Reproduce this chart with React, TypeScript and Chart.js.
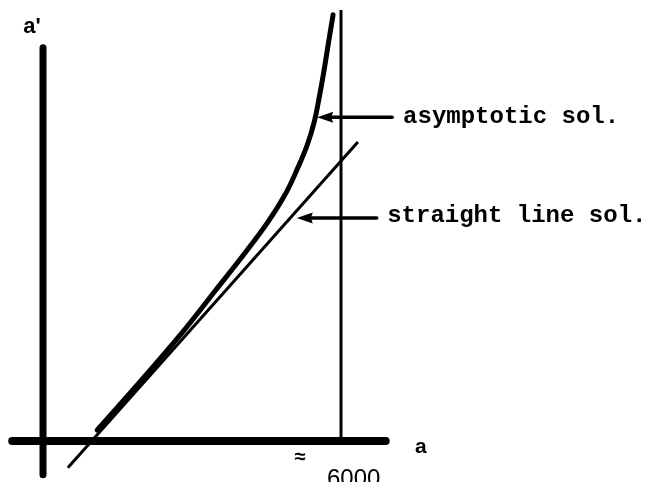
import { useEffect, useRef } from "react";
import { Chart, registerables } from "chart.js";

Chart.register(...registerables);

// Asymptotic solution: a and a' samples
const asymA = [1090, 1950, 2760, 3480, 4070, 4530, 4890, 5130, 5320, 5460, 5560, 5660, 5740, 5840];
const asymAp = [220, 1190, 2130, 3040, 3790, 4410, 4990, 5500, 5960, 6420, 6910, 7470, 7970, 8580];

// Straight line solution: end points
const lineA = [500, 6340];
const lineAp = [-540, 6020];

// Vertical asymptote at a ≈ 6000
const asymptoteA = 6000;
const asymptoteAp = [0, 8680];

// Axis extents
const xAxisA = [-620, 6900];
const yAxisAp = [-680, 7920];

// Text
const xAxisTitle = "a";
const yAxisTitle = "a'";
const approxSign = "≈";
const asymptoteTick = "6000";
const asymLabel = "asymptotic sol.";
const lineLabel = "straight line sol.";

// Pointer arrows (a' level, tip a, tail a)
const arrowAp = [6520, 4490];
const arrowTipA = [5520, 5110];
const arrowTailA = [7030, 6720];

const INK = "#000";

const pts = (xs: number[], ys: number[]) => xs.map((x, i) => ({ x, y: ys[i] }));

const annotations = {
  id: "sketchAnnotations",
  afterDatasetsDraw(chart: any) {
    const { ctx } = chart;
    const sx = chart.scales.x;
    const sy = chart.scales.y;
    const X = (v: number) => sx.getPixelForValue(v);
    const Y = (v: number) => sy.getPixelForValue(v);
    ctx.save();
    ctx.fillStyle = INK;
    ctx.strokeStyle = INK;

    // arrows pointing at the two curves
    for (let i = 0; i < arrowAp.length; i++) {
      const y = Y(arrowAp[i]);
      const tip = X(arrowTipA[i]);
      const tail = X(arrowTailA[i]);
      ctx.lineWidth = 3.5;
      ctx.lineCap = "round";
      ctx.beginPath();
      ctx.moveTo(tail, y);
      ctx.lineTo(tip + 10, y);
      ctx.stroke();
      ctx.beginPath();
      ctx.moveTo(tip, y);
      ctx.lineTo(tip + 16, y - 5.5);
      ctx.lineTo(tip + 14, y);
      ctx.lineTo(tip + 16, y + 5.5);
      ctx.closePath();
      ctx.fill();
    }

    // curve labels
    ctx.font = "bold 24px 'Liberation Mono', 'DejaVu Sans Mono', monospace";
    ctx.textBaseline = "alphabetic";
    ctx.textAlign = "left";
    ctx.fillText(asymLabel, X(7250), Y(6400));
    ctx.fillText(lineLabel, X(6930), Y(4410));

    // axis titles
    ctx.font = "bold 22px 'Liberation Sans', Arial, sans-serif";
    ctx.fillText(yAxisTitle, X(-400), Y(8215));
    ctx.font = "bold 21px 'Liberation Sans', Arial, sans-serif";
    ctx.fillText(xAxisTitle, X(7490), Y(-242));

    // asymptote value
    ctx.font = "bold 20px 'Liberation Sans', Arial, sans-serif";
    ctx.fillText(approxSign, X(5070), Y(-440));
    ctx.font = "24px 'Liberation Sans', Arial, sans-serif";
    ctx.fillText(asymptoteTick, X(5718), Y(-900));

    ctx.restore();
  },
};

export default function App() {
  const canvasRef = useRef<HTMLCanvasElement | null>(null);

  useEffect(() => {
    if (!canvasRef.current) return;
    const chart = new Chart(canvasRef.current, {
      type: "scatter",
      data: {
        datasets: [
          {
            label: "a' axis",
            data: pts([0, 0], yAxisAp),
            showLine: true,
            borderColor: INK,
            borderWidth: 7,
            borderCapStyle: "round",
            pointRadius: 0,
          },
          {
            label: "a axis",
            data: pts(xAxisA, [0, 0]),
            showLine: true,
            borderColor: INK,
            borderWidth: 8,
            borderCapStyle: "round",
            pointRadius: 0,
          },
          {
            label: "asymptote",
            data: pts([asymptoteA, asymptoteA], asymptoteAp),
            showLine: true,
            borderColor: INK,
            borderWidth: 3,
            pointRadius: 0,
          },
          {
            label: "straight line sol.",
            data: pts(lineA, lineAp),
            showLine: true,
            borderColor: INK,
            borderWidth: 3,
            pointRadius: 0,
          },
          {
            label: "asymptotic sol.",
            data: pts(asymA, asymAp),
            showLine: true,
            borderColor: INK,
            borderWidth: 5,
            borderCapStyle: "round",
            tension: 0.4,
            pointRadius: 0,
          },
        ],
      } as any,
      options: {
        animation: false,
        responsive: false,
        events: [],
        layout: { padding: 0 },
        plugins: {
          legend: { display: false },
          tooltip: { enabled: false },
        },
        scales: {
          x: { type: "linear", display: false, min: -866, max: 12161 },
          y: { type: "linear", display: false, min: -826, max: 8879 },
        },
      } as any,
      plugins: [annotations],
    });
    return () => chart.destroy();
  }, []);

  return (
    <div style={{ position: "fixed", left: 0, top: 0, width: 647, height: 482, background: "#fff" }}>
      <canvas ref={canvasRef} width={647} height={482} style={{ display: "block" }} />
    </div>
  );
}
